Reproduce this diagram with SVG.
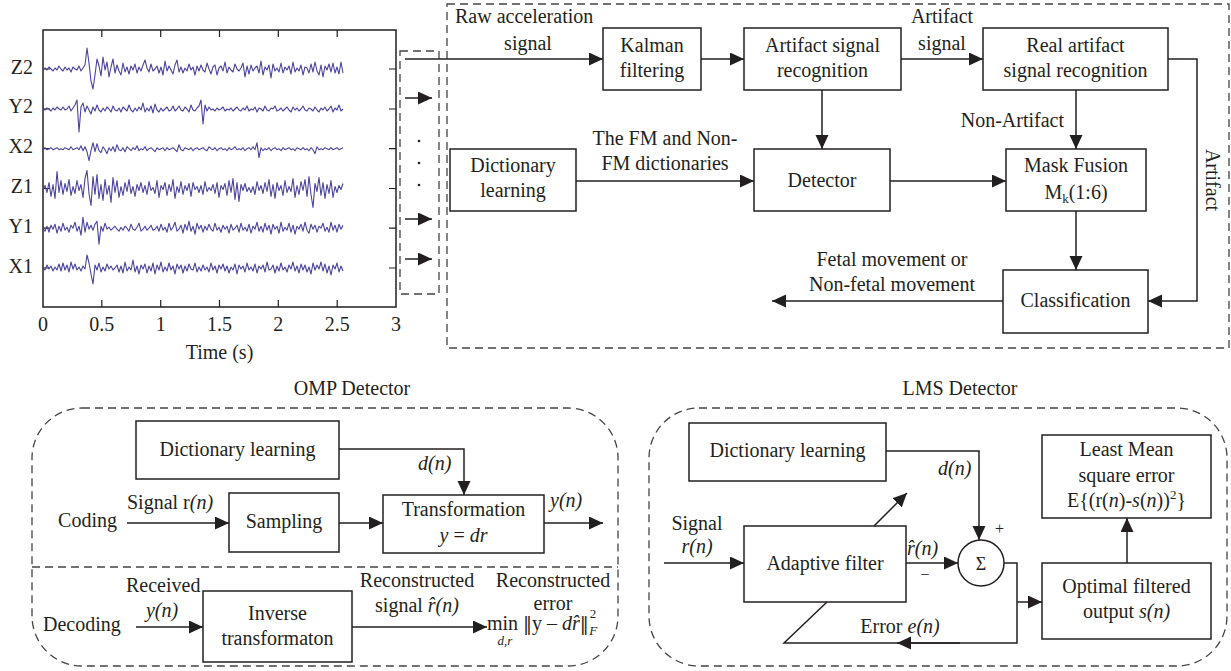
<svg xmlns="http://www.w3.org/2000/svg" width="1231" height="671" viewBox="0 0 1231 671">
<style>
.t{font-family:"Liberation Serif","Times New Roman",serif;font-size:20px;fill:#231f20}
.m{text-anchor:middle}
.e{text-anchor:end}
.i{font-style:italic}
.s{font-size:13px}
.dv{font-family:"DejaVu Serif",serif;font-size:18px}
.box{fill:#fff;stroke:#231f20;stroke-width:1.5}
.ln{fill:none;stroke:#231f20;stroke-width:1.5}
.arr{marker-end:url(#ah)}
.dash{fill:none;stroke:#444;stroke-width:1.3;stroke-dasharray:8 5}
.sig{fill:none;stroke:#4a43a0;stroke-width:1.1;vector-effect:non-scaling-stroke;stroke-linejoin:round}
.tick{stroke:#231f20;stroke-width:1.2}
</style>
<defs>
<marker id="ah" markerUnits="userSpaceOnUse" markerWidth="15" markerHeight="14" viewBox="0 0 15 14" refX="14" refY="6.5" orient="auto"><path d="M0,0 L14,6.5 L0,13 z" fill="#231f20"/></marker>
</defs>
<rect width="1231" height="671" fill="#fff"/>

<!-- plot -->
<g id="plot">
<rect x="43" y="30" width="353" height="277" fill="none" stroke="#231f20" stroke-width="1.5"/>
<g class="tick">
<path d="M101.8,307v-7M160.7,307v-7M219.5,307v-7M278.3,307v-7M337.2,307v-7M101.8,30v7M160.7,30v7M219.5,30v7M278.3,30v7M337.2,30v7"/>
<path d="M43,69h7M43,109h7M43,148.7h7M43,188.5h7M43,228.2h7M43,268h7M396,69h-7M396,109h-7M396,148.7h-7M396,188.5h-7M396,228.2h-7M396,268h-7"/>
</g>
<g class="t e">
<text x="33" y="74">Z2</text><text x="33" y="113">Y2</text><text x="33" y="153">X2</text><text x="33" y="193">Z1</text><text x="33" y="233">Y1</text><text x="33" y="273">X1</text>
</g>
<g class="t m">
<text x="43" y="331">0</text><text x="101.8" y="331">0.5</text><text x="160.7" y="331">1</text><text x="219.5" y="331">1.5</text><text x="278.3" y="331">2</text><text x="337.2" y="331">2.5</text><text x="396" y="331">3</text>
<text x="219.5" y="359">Time (s)</text>
</g>
<polyline class="sig" transform="translate(43,69) scale(2,1)" points="0,0 1,-1 2,1 3,-2 4,0 5,2 6,-1 7,1 8,-3 9,0 10,2 11,-2 12,1 13,-1 14,3 15,-2 16,0 17,1 18,-3 19,2 20,-1 21,-4 22,-21 23,-6 24,12 25,20 26,6 27,-10 28,-3 29,7 30,-12 31,1 32,-7 33,8 34,-2 35,-10 36,4 37,-4 38,2 39,6 40,-6 41,3 42,-2 43,5 44,-3 45,1 46,-5 47,4 48,-2 49,2 50,-4 51,-9 52,-1 53,3 54,-5 55,2 56,0 57,-3 58,4 59,-2 60,6 61,-8 62,2 63,-3 64,1 65,5 66,-4 67,-9 68,3 69,-2 70,4 71,-1 72,2 73,-5 74,1 75,-2 76,6 77,-3 78,2 79,-4 80,1 81,3 82,-6 83,0 84,5 85,-2 86,-4 87,6 88,-1 89,-3 90,2 91,-7 92,4 93,-2 94,1 95,3 96,-5 97,0 98,2 99,-1 100,-6 101,8 102,-3 103,5 104,-4 105,2 106,-1 107,-3 108,4 109,-8 110,6 111,-2 112,1 113,-4 114,9 115,-5 116,2 117,-1 118,3 119,-6 120,4 121,-2 122,1 123,-3 124,5 125,-7 126,3 127,-1 128,2 129,-4 130,6 131,-2 132,-1 133,4 134,-5 135,3 136,-7 137,2 138,6 139,-4 140,8 141,-3 142,1 143,-5 144,3 145,-6 146,4 147,-2 148,5 149,-7 150,4"/>
<polyline class="sig" transform="translate(43,109) scale(2,1)" points="0,0 1,1 2,-1 3,0 4,2 5,-1 6,1 7,-2 8,0 9,1 10,-2 11,1 12,0 13,-3 14,2 15,-1 16,-4 17,-9 18,23 19,-2 20,-6 21,3 22,-3 23,1 24,5 25,-2 26,2 27,-4 28,1 29,3 30,-1 31,2 32,-2 33,0 34,3 35,-3 36,1 37,2 38,-1 39,3 40,-2 41,0 42,2 43,-4 44,1 45,3 46,-1 47,2 48,-2 49,1 50,-6 51,3 52,-1 53,2 54,-3 55,4 56,-5 57,1 58,3 59,-1 60,2 61,0 62,-2 63,2 64,1 65,-3 66,2 67,0 68,-3 69,1 70,2 71,-2 72,0 73,3 74,-4 75,1 76,2 77,-1 78,-3 79,-9 80,15 81,-4 82,2 83,-2 84,1 85,0 86,2 87,-1 88,1 89,0 90,-2 91,2 92,0 93,1 94,-1 95,2 96,0 97,-2 98,1 99,2 100,-1 101,1 102,-3 103,2 104,0 105,1 106,-2 107,3 108,-1 109,0 110,2 111,-3 112,1 113,2 114,-1 115,0 116,-3 117,2 118,1 119,-1 120,2 121,0 122,-2 123,1 124,3 125,-2 126,1 127,-1 128,2 129,0 130,-3 131,1 132,2 133,-1 134,0 135,2 136,-2 137,1 138,3 139,-1 140,1 141,-2 142,2 143,0 144,-3 145,3 146,-1 147,1 148,-4 149,2 150,0"/>
<polyline class="sig" transform="translate(43,148.7) scale(2,1)" points="0,0 1,-1 2,1 3,0 4,-1 5,1 6,0 7,-1 8,1 9,0 10,1 11,-1 12,0 13,1 14,-2 15,1 16,0 17,-1 18,1 19,-3 20,2 21,-2 22,3 23,12 24,2 25,-6 26,3 27,-5 28,2 29,4 30,-2 31,1 32,5 33,-1 34,2 35,-2 36,3 37,-4 38,1 39,2 40,-1 41,3 42,-2 43,0 44,2 45,-1 46,1 47,-3 48,2 49,0 50,1 51,-2 52,2 53,0 54,-1 55,1 56,3 57,-1 58,1 59,0 60,-1 61,2 62,-1 63,1 64,0 65,-1 66,1 67,3 68,-4 69,1 70,2 71,-1 72,0 73,1 74,-1 75,2 76,0 77,-1 78,1 79,0 80,-1 81,1 82,2 83,-2 84,0 85,1 86,-1 87,2 88,0 89,-1 90,1 91,0 92,2 93,-1 94,1 95,0 96,-2 97,1 98,0 99,1 100,-1 101,2 102,0 103,-1 104,1 105,-2 106,1 107,-6 108,9 109,-1 110,2 111,0 112,1 113,-1 114,2 115,0 116,-1 117,1 118,0 119,2 120,-1 121,1 122,0 123,-1 124,1 125,0 126,2 127,-1 128,0 129,1 130,-1 131,1 132,0 133,2 134,-1 135,1 136,5 137,-2 138,1 139,0 140,1 141,-1 142,0 143,1 144,-1 145,1 146,0 147,-1 148,1 149,0 150,-1"/>
<polyline class="sig" transform="translate(43,188.5) scale(2,1)" points="0,2 1,-3 2,4 3,-6 4,8 5,-4 6,10 7,-17 8,4 9,-8 10,6 11,-5 12,3 13,-9 14,7 15,-2 16,5 17,-8 18,2 19,-4 20,9 21,-10 22,-18 23,5 24,17 25,-12 26,6 27,-14 28,10 29,-4 30,12 31,-9 32,6 33,-3 34,14 35,-11 36,4 37,-8 38,9 39,-2 40,7 41,-6 42,3 43,-9 44,5 45,-2 46,8 47,-4 48,2 49,-6 50,4 51,-3 52,6 53,-7 54,2 55,-1 56,5 57,-8 58,9 59,-3 60,1 61,-6 62,7 63,-4 64,3 65,-9 66,10 67,-2 68,4 69,-7 70,6 71,-3 72,2 73,-5 74,8 75,-6 76,1 77,-2 78,4 79,-3 80,6 81,-7 82,3 83,-1 84,2 85,-4 86,5 87,-6 88,9 89,-3 90,1 91,-5 92,7 93,-8 94,4 95,-10 96,11 97,-6 98,13 99,-4 100,2 101,-5 102,3 103,-1 104,4 105,-2 106,6 107,-7 108,2 109,-3 110,5 111,-6 112,3 113,-9 114,8 115,-4 116,10 117,-6 118,2 119,-3 120,7 121,-8 122,4 123,-2 124,3 125,-10 126,9 127,-3 128,6 129,-7 130,2 131,-9 132,8 133,-12 134,6 135,19 136,-5 137,3 138,-11 139,7 140,-6 141,10 142,-4 143,5 144,-8 145,9 146,-2 147,4 148,-3 149,1 150,-5"/>
<polyline class="sig" transform="translate(43,228.2) scale(2,1)" points="0,0 1,3 2,-2 3,4 4,-3 5,1 6,-4 7,5 8,-2 9,3 10,-5 11,2 12,-1 13,4 14,-3 15,0 16,-6 17,3 18,-2 19,7 20,-11 21,4 22,-6 23,1 24,-3 25,2 26,-4 27,-7 28,16 29,-2 30,3 31,-5 32,1 33,-1 34,2 35,0 36,-2 37,1 38,3 39,-1 40,2 41,-2 42,0 43,3 44,-4 45,1 46,2 47,-1 48,-5 49,3 50,1 51,-2 52,2 53,0 54,-3 55,2 56,1 57,-2 58,3 59,-4 60,2 61,-1 62,4 63,-5 64,2 65,-1 66,-6 67,3 68,1 69,-3 70,5 71,-4 72,2 73,-7 74,3 75,-2 76,6 77,-5 78,1 79,-3 80,4 81,-2 82,2 83,-4 84,1 85,3 86,-5 87,2 88,-1 89,4 90,-3 91,1 92,-2 93,5 94,-4 95,2 96,0 97,-3 98,4 99,-5 100,2 101,-1 102,3 103,-4 104,5 105,-2 106,1 107,-6 108,3 109,-2 110,4 111,-5 112,2 113,-3 114,6 115,-4 116,1 117,-2 118,5 119,-6 120,3 121,-1 122,2 123,-5 124,4 125,-3 126,6 127,-2 128,1 129,-4 130,3 131,-6 132,2 133,5 134,-4 135,1 136,-3 137,4 138,-2 139,0 140,-5 141,3 142,-1 143,4 144,-6 145,2 146,-3 147,4 148,-4 149,1 150,-3"/>
<polyline class="sig" transform="translate(43,268) scale(2,1)" points="0,0 1,2 2,-3 3,1 4,-2 5,3 6,-1 7,2 8,-4 9,3 10,-5 11,2 12,-3 13,4 14,-6 15,1 16,-4 17,2 18,-1 19,3 20,-2 21,1 22,-13 23,-5 24,6 25,16 26,-3 27,2 28,-5 29,4 30,-1 31,3 32,-4 33,1 34,-2 35,2 36,0 37,-3 38,4 39,-2 40,5 41,-6 42,3 43,-1 44,2 45,-8 46,4 47,-2 48,6 49,-3 50,1 51,-4 52,5 53,-2 54,3 55,-5 56,6 57,-3 58,2 59,-6 60,4 61,-1 62,3 63,-5 64,2 65,-2 66,6 67,-4 68,1 69,-3 70,5 71,-2 72,3 73,-4 74,1 75,2 76,-5 77,4 78,-1 79,3 80,-3 81,2 82,-1 83,4 84,-5 85,2 86,-2 87,5 88,-3 89,1 90,-4 91,3 92,-2 93,5 94,-1 95,2 96,-4 97,6 98,-3 99,1 100,-2 101,4 102,-5 103,2 104,-1 105,3 106,-4 107,5 108,-2 109,1 110,-3 111,4 112,-6 113,2 114,1 115,-3 116,5 117,-2 118,3 119,-5 120,2 121,-1 122,4 123,-3 124,1 125,-6 126,3 127,-2 128,5 129,-4 130,2 131,-3 132,4 133,-1 134,6 135,-5 136,2 137,-3 138,1 139,-6 140,3 141,-4 142,5 143,-2 144,7 145,-3 146,1 147,-5 148,4 149,-2 150,3"/>
</g>

<!-- side channel box -->
<g id="channels">
<rect class="dash" x="400" y="51" width="39" height="243"/>
<circle cx="419" cy="141" r="1.3" fill="#231f20"/><circle cx="419" cy="163" r="1.3" fill="#231f20"/><circle cx="419" cy="185" r="1.3" fill="#231f20"/>
</g>

<!-- top flow -->
<rect id="flowFrame" class="dash" x="447" y="4" width="782" height="344"/>
<g id="kalman"><rect class="box" x="603" y="28" width="98" height="62"/><text class="t m" x="652" y="52">Kalman</text><text class="t m" x="652" y="77">filtering</text></g>
<g id="artifactRec"><rect class="box" x="744" y="28" width="157" height="62"/><text class="t m" x="822.5" y="52">Artifact signal</text><text class="t m" x="822.5" y="77">recognition</text></g>
<g id="realArtifact"><rect class="box" x="983" y="28" width="185" height="62"/><text class="t m" x="1075.5" y="52">Real artifact</text><text class="t m" x="1075.5" y="77">signal recognition</text></g>
<g id="dictTop"><rect class="box" x="450" y="149" width="126" height="62"/><text class="t m" x="513" y="172">Dictionary</text><text class="t m" x="513" y="197">learning</text></g>
<g id="detector"><rect class="box" x="754" y="149" width="136" height="62"/><text class="t m" x="822" y="187">Detector</text></g>
<g id="maskFusion"><rect class="box" x="1006" y="149" width="140" height="62"/><text class="t m" x="1076" y="172">Mask Fusion</text><text class="t m" x="1076" y="199">M<tspan class="s" dy="4">k</tspan><tspan dy="-4">(1:6)</tspan></text></g>
<g id="classification"><rect class="box" x="1003" y="270" width="145" height="63"/><text class="t m" x="1075.5" y="307">Classification</text></g>

<!-- OMP -->
<g id="omp">
<text class="t m" x="352" y="395">OMP Detector</text>
<rect class="dash" x="32" y="408" width="586" height="258" rx="50" ry="50"/>
<line class="dash" x1="32" y1="567" x2="618" y2="567"/>
</g>
<g id="ompDict"><rect class="box" x="136" y="421" width="203" height="58"/><text class="t m" x="237.5" y="456">Dictionary learning</text></g>
<g id="ompSampling"><rect class="box" x="229" y="493" width="110" height="59"/><text class="t m" x="284" y="528">Sampling</text></g>
<g id="ompTransform"><rect class="box" x="383" y="495" width="161" height="58"/><text class="t m" x="463.5" y="516">Transformation</text><text class="t m" x="463.5" y="542"><tspan class="i">y</tspan> = <tspan class="i">dr</tspan></text></g>
<g id="ompInverse"><rect class="box" x="203" y="591" width="149" height="71"/><text class="t m" x="277.5" y="620">Inverse</text><text class="t m" x="277.5" y="645">transformaton</text></g>
<g id="ompLabels">
<text class="t e" x="117" y="527">Coding</text>
<text class="t" x="127" y="509">Signal r<tspan class="i">(n)</tspan></text>
<text class="t i" x="418" y="470">d(n)</text>
<text class="t i" x="550" y="507">y(n)</text>
<text class="t" x="43" y="631">Decoding</text>
<text class="t" x="126" y="592">Received</text>
<text class="t m i" x="162" y="617">y(n)</text>
<text class="t m" x="417" y="587">Reconstructed</text>
<text class="t m" x="417" y="612">signal <tspan class="i">r̂(n)</tspan></text>
<text class="t m" x="553" y="587">Reconstructed</text>
<text class="t m" x="553" y="610">error</text>
<text class="t" x="487" y="630">min</text>
<text class="t m i s" x="505" y="645">d,r</text>
<text class="t" x="523" y="630"><tspan class="dv">‖</tspan>y – <tspan class="i">dr̂</tspan><tspan class="dv">‖</tspan><tspan class="s" dx="1" dy="-12">2</tspan><tspan class="s i" dx="-7" dy="17">F</tspan></text>
</g>

<!-- LMS -->
<g id="lms">
<text class="t m" x="960" y="395">LMS Detector</text>
<rect class="dash" x="649" y="408" width="578" height="258" rx="50" ry="50"/>
</g>
<g id="lmsDict"><rect class="box" x="689" y="423" width="197" height="58"/><text class="t m" x="787.5" y="457">Dictionary learning</text></g>
<g id="lmsAdaptive"><rect class="box" x="744" y="526" width="162" height="76"/><text class="t m" x="825" y="570">Adaptive filter</text></g>
<g id="lmsSum"><circle cx="981" cy="563" r="23" fill="#fff" stroke="#231f20" stroke-width="1.5"/><text class="t m" x="981" y="570" style="font-size:18px">Σ</text></g>
<g id="lmsLeast"><rect class="box" x="1042" y="435" width="169" height="83"/><text class="t m" x="1126.5" y="456">Least Mean</text><text class="t m" x="1126.5" y="482">square error</text><text class="t m" x="1126.5" y="507">E{(r(<tspan class="i">n</tspan>)-<tspan class="i">s</tspan>(<tspan class="i">n</tspan>))<tspan class="s" dy="-8">2</tspan><tspan dy="8">}</tspan></text></g>
<g id="lmsOptimal"><rect class="box" x="1042" y="563" width="169" height="76"/><text class="t m" x="1126.5" y="593">Optimal filtered</text><text class="t m" x="1126.5" y="618">output <tspan class="i">s(n)</tspan></text></g>
<g id="lmsLabels">
<text class="t m" x="697" y="530">Signal</text>
<text class="t m i" x="697" y="553">r(n)</text>
<text class="t i" x="938" y="475">d(n)</text>
<text class="t" x="995" y="534" style="font-size:16px">+</text>
<text class="t i" x="907" y="555">r̂(n)</text>
<text class="t m" x="925" y="580" style="font-size:16px">−</text>
<text class="t m" x="900" y="633">Error <tspan class="i">e(n)</tspan></text>
</g>

<!-- top labels -->
<g id="topLabels">
<text class="t" x="455" y="23">Raw acceleration</text>
<text class="t m" x="528" y="50">signal</text>
<text class="t m" x="942" y="23">Artifact</text>
<text class="t m" x="942" y="50">signal</text>
<text class="t m" x="665" y="145">The FM and Non-</text>
<text class="t m" x="665" y="170">FM dictionaries</text>
<text class="t e" x="1064" y="127">Non-Artifact</text>
<text class="t m" x="892" y="266">Fetal movement or</text>
<text class="t m" x="892" y="291">Non-fetal movement</text>
<text class="t m" transform="translate(1206,180) rotate(90)">Artifact</text>
</g>

<g id="connectors" class="ln">
<path class="arr" d="M405,98H432"/>
<path class="arr" d="M405,219H432"/>
<path class="arr" d="M405,259H432"/>
<path class="arr" d="M405,59H603"/>
<path class="arr" d="M701,59H744"/>
<path class="arr" d="M901,59H983"/>
<path class="arr" d="M822,90V149"/>
<path class="arr" d="M1076,90V149"/>
<path class="arr" d="M576,181H754"/>
<path class="arr" d="M890,181H1006"/>
<path class="arr" d="M1076,211V270"/>
<path class="arr" d="M1168,59H1197V301H1148"/>
<path class="arr" d="M1003,301H772"/>
<path class="arr" d="M127,523H229"/>
<path class="arr" d="M339,523H383"/>
<path class="arr" d="M339,449H464V495"/>
<path class="arr" d="M544,523H603"/>
<path class="arr" d="M136,627H203"/>
<path class="arr" d="M352,627H487"/>
<path class="arr" d="M886,451H979V540"/>
<path class="arr" d="M664,563H744"/>
<path class="arr" d="M906,563H958"/>
<path class="arr" d="M874,526L907,493"/>
<path d="M1004,563H1017V643H784L827,602"/>
<path class="arr" d="M960,643H897"/>
<path class="arr" d="M1017,602H1042"/>
<path class="arr" d="M1127,563V518"/>
</g>
</svg>
